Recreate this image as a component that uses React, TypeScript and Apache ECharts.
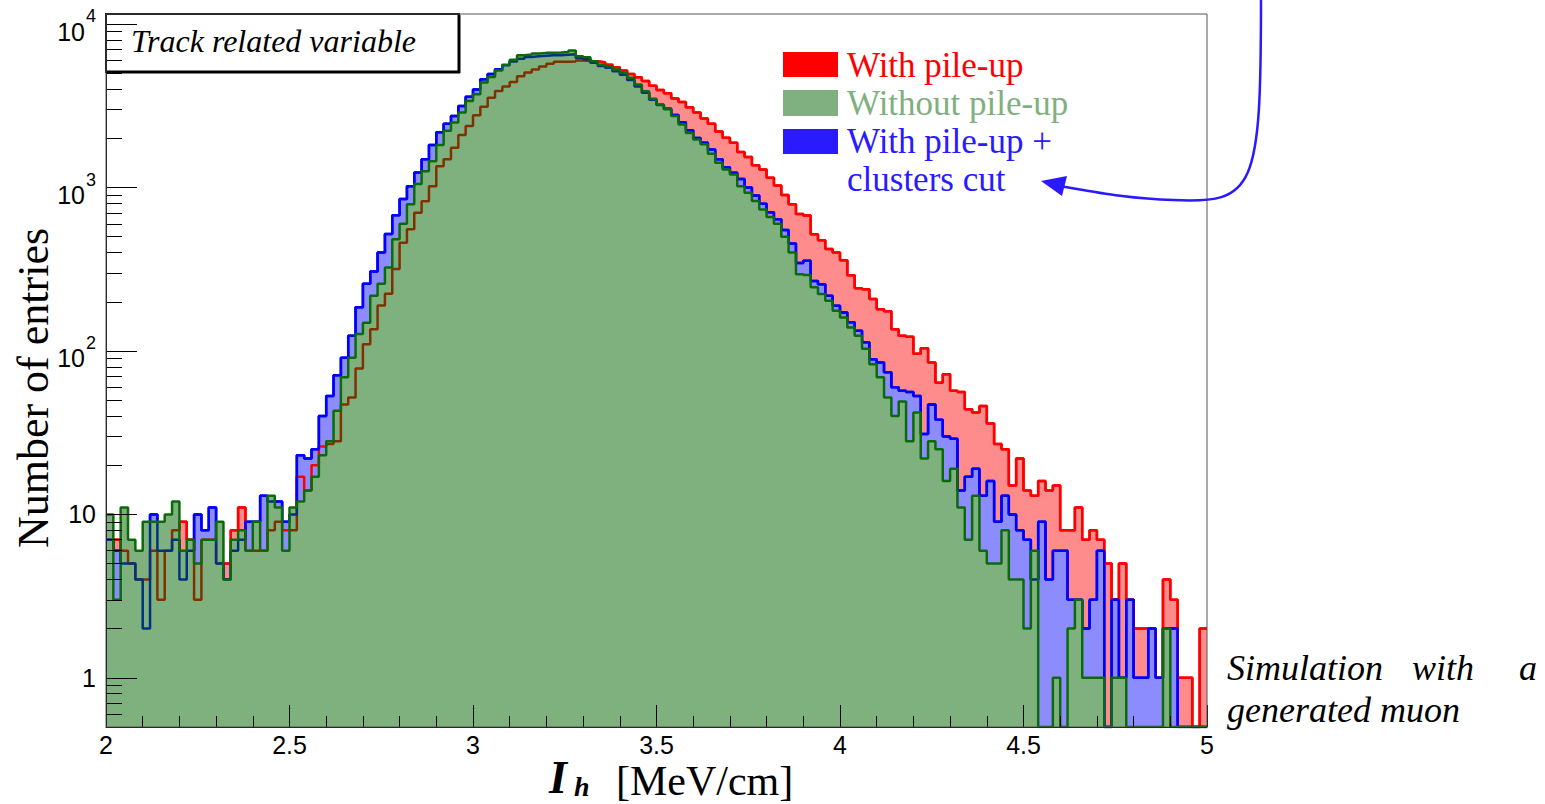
import React, { useEffect, useRef } from "react";
import * as echarts from "echarts";

// Histogram binning: 150 bins of width 0.02 from 2 to 5 MeV/cm
const BIN_START = 2;
const BIN_WIDTH = 0.02;

// Number of entries per bin
const withPileUp: number[] = [
  7, 7, 6, 5, 4, 4, 6, 3, 6, 8, 9, 7, 3, 7, 7, 5, 5, 8, 11, 6, 6, 6, 8, 9, 8, 8,
  17, 14, 20, 26, 27, 28, 47, 52, 78, 110, 136, 190, 224, 317, 460, 555, 700, 825, 1020, 1350, 1490, 1750, 2100, 2380, 2770,
  3120, 3540, 3900, 4150, 4430, 4800, 5050, 5280, 5500, 5720, 5880, 5880, 5900, 5990, 5950, 5900, 5850, 5650, 5450, 5200, 4960, 4730, 4480, 4200, 3950,
  3780, 3510, 3340, 3100, 2880, 2650, 2460, 2200, 2020, 1880, 1650, 1540, 1370, 1290, 1150, 1030, 900, 790, 690, 675, 518, 476, 420, 400, 359,
  291, 242, 239, 208, 180, 175, 136, 124, 122, 96, 104, 85, 64, 72, 57, 56, 44, 42, 46, 36, 27, 25, 15, 22, 14,
  13, 16, 14, 15, 8, 8, 11, 7, 8, 7, 5, 3, 5, 3, 2, 2, 2, 1, 4, 3, 1, 1, 0, 2,
];

const withoutPileUp: number[] = [
  10, 3, 11, 7, 6, 9, 9, 9, 10, 12, 6, 7, 5, 7, 7, 9, 4, 7, 8, 6, 9, 6, 13, 11, 6, 11,
  12, 14, 17, 23, 28, 43, 69, 91, 127, 149, 218, 258, 324, 483, 600, 790, 1050, 1260, 1450, 1820, 2230, 2500, 2880, 3390, 3720,
  4400, 4750, 5200, 5650, 6060, 6450, 6510, 6610, 6670, 6670, 6700, 6760, 6890, 6370, 6270, 5930, 5650, 5530, 5280, 5040, 4690, 4270, 3890, 3500, 3220,
  3010, 2740, 2430, 2160, 1970, 1840, 1610, 1420, 1290, 1200, 1020, 930, 826, 734, 660, 601, 500, 400, 295, 292, 245, 223, 203, 176, 160,
  139, 124, 103, 83, 69, 52, 40, 49, 28, 42, 22, 28, 25, 16, 19, 11, 7, 13, 6, 5, 5, 8, 4, 4, 2,
  6, 0, 0, 1, 0, 2, 3, 1, 1, 1, 0, 1, 1, 0, 0, 0, 0, 0, 2, 0, 0, 0, 0, 0,
];

const withPileUpClustersCut: number[] = [
  7, 6, 5, 5, 4, 2, 10, 6, 6, 7, 4, 6, 10, 8, 11, 5, 4, 6, 7, 9, 9, 13, 12, 12, 9, 10,
  23, 22, 25, 40, 53, 71, 91, 124, 185, 258, 306, 401, 520, 678, 850, 1020, 1235, 1490, 1820, 2180, 2460, 2740, 3150, 3600, 3980,
  4600, 4950, 5300, 5600, 5900, 6150, 6300, 6350, 6400, 6450, 6450, 6500, 6550, 6200, 6100, 5800, 5550, 5400, 5150, 4900, 4550, 4150, 3800, 3450, 3200,
  3030, 2780, 2510, 2240, 2010, 1880, 1710, 1490, 1330, 1230, 1130, 1000, 895, 795, 705, 640, 550, 455, 345, 356, 268, 256, 218, 189, 172,
  150, 133, 113, 89, 85, 74, 60, 57, 56, 53, 31, 47, 38, 30, 29, 14, 17, 19, 13, 16, 9, 13, 10, 8, 7,
  4, 9, 4, 6, 6, 3, 3, 2, 3, 6, 0, 3, 1, 3, 1, 1, 2, 1, 2, 2, 0, 0, 0, 0,
];

// Axis ticks and labels
const xTickInterval = 0.5;
const yDecades = [0, 1, 2, 3, 4];
const yTickLabels = ["1", "10", "10^2", "10^3", "10^4"];
const yMinorMantissas = [2, 3, 4, 5, 6, 7, 8, 9];

const legendLabels = ["With pile-up", "Without pile-up", "With pile-up +", "clusters cut"];
const yTitle = "Number of entries";
const boxText = "Track related variable";

const SERIF = "Liberation Serif";
const SANS = "Liberation Sans";

const Y_MIN = Math.log10(0.5);
const Y_MAX = 4.062;

const toLog = (v: number) => (v > 0 ? Math.log10(v) : Y_MIN);
const stepData = (arr: number[]) => {
  const pts = arr.map((v, i) => [BIN_START + BIN_WIDTH * i, toLog(v)]);
  pts.push([BIN_START + BIN_WIDTH * arr.length, toLog(arr[arr.length - 1])]);
  return pts;
};

const minorTickValues: number[] = [];
for (let d = -1; d <= 4; d++) {
  for (const m of yMinorMantissas) {
    const v = Math.log10(m) + d;
    if (v > Y_MIN + 1e-6 && v < Y_MAX) minorTickValues.push(v);
  }
}

const COLORS = {
  red: "#ff0000",
  redFill: "#ff8c8c",
  blue: "#0000ff",
  blueFill: "#8c8cff",
  green: "#0b6b0b",
  greenFill: "rgba(0,100,0,0.5)",
  legendGreen: "#80b080",
  legendBlue: "#2a1aff",
};

function mkSeries(name: string, arr: number[], z: number, line: string | null, fill: string | null) {
  const s: any = {
    type: "line",
    name,
    data: stepData(arr),
    step: "end",
    symbol: "none",
    showSymbol: false,
    silent: true,
    clip: true,
    z,
    lineStyle: line ? { color: line, width: 2.5 } : { opacity: 0, width: 0 },
  };
  if (fill) s.areaStyle = { color: fill, opacity: 1, origin: "start" };
  return s;
}

function txt(text: string, x: number, y: number, size: number, opts: any = {}) {
  return {
    type: "text",
    z: 9,
    x,
    y,
    rotation: opts.rotation ?? 0,
    silent: true,
    style: {
      text,
      fill: opts.fill ?? "#000",
      fontFamily: opts.family ?? SERIF,
      fontSize: size,
      fontStyle: opts.italic ? "italic" : "normal",
      fontWeight: opts.bold ? "bold" : "normal",
      textAlign: opts.align ?? "left",
      textVerticalAlign: "middle",
    },
  };
}

export default function App() {
  const ref = useRef<HTMLDivElement>(null);

  useEffect(() => {
    const chart = echarts.init(ref.current!, null, { renderer: "svg", width: 1545, height: 804 });

    const option: any = {
      animation: false,
      backgroundColor: "#ffffff",
      grid: { left: 106, top: 14, width: 1101, height: 713, containLabel: false, outerBoundsMode: "none" },
      xAxis: {
        type: "value",
        min: 2,
        max: 5,
        interval: xTickInterval,
        z: 10,
        axisLine: { show: true, onZero: false, lineStyle: { color: "#000", width: 1 } },
        axisTick: { show: true, inside: true, length: 22, lineStyle: { color: "#000", width: 1 } },
        minorTick: { show: true, splitNumber: 5, length: 11, lineStyle: { color: "#000", width: 1 } },
        splitLine: { show: false },
        axisLabel: {
          color: "#000",
          fontFamily: SANS,
          fontSize: 25,
          lineHeight: 24,
          margin: 6,
          formatter: (v: number) => String(Math.round(v * 10) / 10),
        },
      },
      yAxis: [
        {
          type: "value",
          min: Y_MIN,
          max: Y_MAX,
          z: 10,
          axisLine: { show: true, onZero: false, lineStyle: { color: "#000", width: 1 } },
          axisTick: { show: true, inside: true, length: 31, customValues: yDecades, lineStyle: { color: "#000", width: 1 } },
          splitLine: { show: false },
          axisLabel: {
            customValues: yDecades,
            margin: 10,
            color: "#000",
            fontFamily: SANS,
            fontSize: 25,
            formatter: (v: number) => {
              const i = yDecades.indexOf(Math.round(v));
              const lab = yTickLabels[i] ?? "";
              if (lab.includes("^")) {
                const [b, e] = lab.split("^");
                return `{b|${b}}{s|${e}}`;
              }
              return lab;
            },
            rich: {
              b: { fontSize: 25, fontFamily: SANS, color: "#000", lineHeight: 30, verticalAlign: "bottom" },
              s: { fontSize: 18, fontFamily: SANS, color: "#000", lineHeight: 40, verticalAlign: "top", padding: [3, 0, 0, 1] },
            },
          },
        },
        {
          type: "value",
          min: Y_MIN,
          max: Y_MAX,
          z: 10,
          position: "left",
          axisLine: { show: false },
          axisLabel: { show: false },
          splitLine: { show: false },
          axisTick: { show: true, inside: true, length: 16, customValues: minorTickValues, lineStyle: { color: "#000", width: 1 } },
        },
      ],
      series: [
        mkSeries(legendLabels[0], withPileUp, 2, COLORS.red, COLORS.redFill),
        mkSeries("cut", withPileUpClustersCut, 3, COLORS.blue, COLORS.blueFill),
        mkSeries("mask", withoutPileUp, 4, null, "#ffffff"),
        mkSeries("redLine", withPileUp, 5, COLORS.red, null),
        mkSeries("blueLine", withPileUpClustersCut, 6, COLORS.blue, null),
        mkSeries(legendLabels[1], withoutPileUp, 7, COLORS.green, COLORS.greenFill),
      ],
      graphic: [
        // plot frame (top & right)
        { type: "rect", z: 20, silent: true, shape: { x: 106, y: 14, width: 1101, height: 713 }, style: { fill: "none", stroke: "#555", lineWidth: 1 } },
        // Track related variable box
        { type: "rect", z: 8, silent: true, shape: { x: 106, y: 14, width: 353, height: 58 }, style: { fill: "#fff", stroke: "#000", lineWidth: 2 } },
        { type: "line", z: 8, silent: true, shape: { x1: 459, y1: 15, x2: 459, y2: 73 }, style: { stroke: "#000", lineWidth: 3 } },
        { type: "line", z: 8, silent: true, shape: { x1: 107, y1: 72, x2: 460, y2: 72 }, style: { stroke: "#000", lineWidth: 3 } },
        txt(boxText, 131, 41, 32, { italic: true }),
        // legend
        { type: "rect", z: 9, silent: true, shape: { x: 783, y: 52, width: 55, height: 25 }, style: { fill: COLORS.red } },
        { type: "rect", z: 9, silent: true, shape: { x: 783, y: 90, width: 55, height: 26 }, style: { fill: COLORS.legendGreen } },
        { type: "rect", z: 9, silent: true, shape: { x: 783, y: 129, width: 55, height: 25 }, style: { fill: COLORS.legendBlue } },
        txt(legendLabels[0], 847, 65, 35, { fill: COLORS.red }),
        txt(legendLabels[1], 847, 103, 35, { fill: COLORS.legendGreen }),
        txt(legendLabels[2], 847, 141, 35, { fill: COLORS.legendBlue }),
        txt(legendLabels[3], 847, 179, 35, { fill: COLORS.legendBlue }),
        // arrow
        { type: "bezierCurve", z: 21, silent: true, shape: { x1: 1261, y1: -2, cpx1: 1261, cpy1: 190, cpx2: 1255, cpy2: 204, x2: 1173, y2: 200 }, style: { fill: "none", stroke: COLORS.legendBlue, lineWidth: 2.5 } },
        { type: "bezierCurve", z: 21, silent: true, shape: { x1: 1173, y1: 200, cpx1: 1130, cpy1: 199, cpx2: 1095, cpy2: 192, x2: 1060, y2: 186 }, style: { fill: "none", stroke: COLORS.legendBlue, lineWidth: 2.5 } },
        { type: "polygon", z: 21, silent: true, shape: { points: [[1041, 181], [1067, 176], [1062, 196]] }, style: { fill: COLORS.legendBlue } },
        // axis titles
        txt(yTitle, 33, 388, 44, { rotation: Math.PI / 2, align: "center" }),
        txt("I", 549, 777, 46, { italic: true, bold: true }),
        txt("h", 574, 786, 28, { italic: true, bold: true }),
        txt("[MeV/cm]", 616, 781, 42),
        // simulation note
        txt("Simulation", 1227, 668, 36, { italic: true }),
        txt("with", 1412, 668, 36, { italic: true }),
        txt("a", 1519, 668, 36, { italic: true }),
        txt("generated muon", 1227, 710, 36, { italic: true }),
      ],
    };

    chart.setOption(option);
    return () => chart.dispose();
  }, []);

  return (
    <div
      ref={ref}
      style={{ position: "fixed", left: 0, top: 0, width: 1545, height: 804, background: "#fff" }}
    />
  );
}
